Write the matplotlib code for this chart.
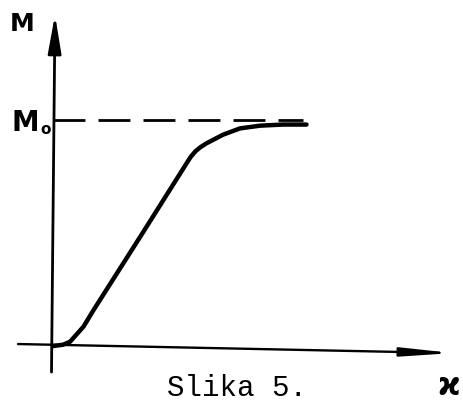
import matplotlib.pyplot as plt

# magnetisation curve M(H), M in units of the saturation value M0
H = [0.0, 0.20, 0.34, 0.61, 0.81, 1.80, 2.75, 2.85, 2.95, 3.07, 3.40, 3.74, 4.14, 4.60, 5.07]
M = [0.0, 0.006, 0.019, 0.086, 0.159, 0.503, 0.836, 0.862, 0.880, 0.897, 0.935, 0.963, 0.975, 0.98, 0.98]
M0 = 1.0
H_dash_end = 5.0

fig = plt.figure(figsize=(4.63, 4.01), dpi=100)
ax = fig.add_axes([0, 0, 1, 1])
ax.set_xlim(-1.06, 8.2)
ax.set_ylim(-0.243, 1.531)
ax.axis('off')

# axes of the sketch, drawn by hand so they are a little skewed
ax.annotate('', xy=(8.0, -0.031), xytext=(-0.70, 0.009),
            arrowprops=dict(arrowstyle='-|>,head_length=3.0,head_width=0.26',
                            mutation_scale=10, lw=1.7, color='black',
                            shrinkA=0, shrinkB=0))
ax.annotate('', xy=(0.04, 1.465), xytext=(-0.03, -0.115),
            arrowprops=dict(arrowstyle='-|>,head_length=2.3,head_width=0.40',
                            mutation_scale=10, lw=2.0, color='black',
                            shrinkA=0, shrinkB=0))

# saturation level
ax.plot([0, H_dash_end], [M0, M0], ls=(0, (11.5, 4.7)), lw=2.0, color='black')

# the curve itself
ax.plot(H, M, lw=3.2, color='black', solid_capstyle='round', solid_joinstyle='round')

ax.text(-0.62, 1.425, 'M', fontsize=18, fontweight='bold', ha='center', va='center')
ax.text(-0.56, 0.985, 'M', fontsize=20, fontweight='bold', ha='center', va='center')
ax.text(-0.15, 0.958, 'o', fontsize=11, fontweight='bold', ha='center', va='center')
ax.text(7.92, -0.18, '\u03f0', fontsize=22, fontweight='bold', ha='center', va='center')
ax.text(2.28, -0.222, 'Slika 5.', fontsize=21, family='Liberation Mono',
        ha='left', va='baseline')

fig.savefig('out.png', dpi=100)
